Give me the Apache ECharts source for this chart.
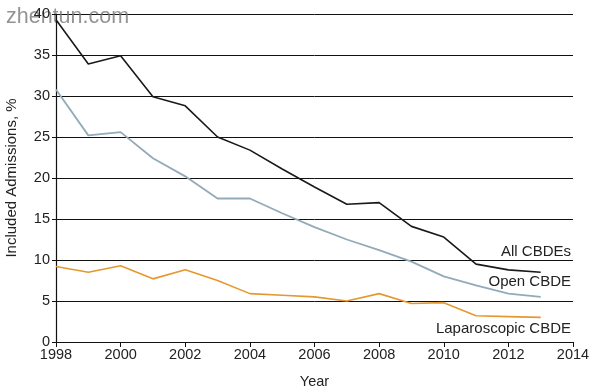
<!DOCTYPE html>
<html><head><meta charset="utf-8">
<script src="https://cdn.jsdelivr.net/npm/echarts@6/dist/echarts.min.js"></script>
<style>html,body{margin:0;padding:0;background:#fff}#c{width:597px;height:392px}</style>
</head><body><div id="c"></div>
<script>
const years = [1998,1999,2000,2001,2002,2003,2004,2005,2006,2007,2008,2009,2010,2011,2012,2013];
const allCBDE = [39.3,33.9,34.9,29.9,28.8,25.0,23.4,21.1,18.9,16.8,17.0,14.1,12.8,9.5,8.8,8.5];
const openCBDE = [30.8,25.2,25.6,22.4,20.2,17.5,17.5,15.7,14.0,12.5,11.2,9.8,8.0,6.9,5.9,5.5];
const lapCBDE = [9.2,8.5,9.3,7.7,8.8,7.5,5.9,5.7,5.5,5.0,5.9,4.7,4.8,3.2,3.1,3.0];
const seriesNames = ['All CBDEs','Open CBDE','Laparoscopic CBDE'];
const F = '"Liberation Sans", Arial, sans-serif';
const chart = echarts.init(document.getElementById('c'));
const mk = (d) => years.map((y,i)=>[y,d[i]]);
chart.setOption({
  animation:false,
  grid:{left:56,right:24,top:14,bottom:50,containLabel:false,outerBoundsMode:'none'},
  xAxis:{type:'value',min:1998,max:2014,interval:2,
    name:'Year',nameLocation:'middle',nameGap:32,
    nameTextStyle:{color:'#222',fontSize:14.5,fontFamily:F},
    axisLine:{lineStyle:{color:'#111',width:1.2}},
    axisTick:{show:true,length:5,lineStyle:{color:'#111'}},
    axisLabel:{color:'#222',fontSize:14.5,fontFamily:F,margin:5,formatter:v=>String(v)},
    splitLine:{show:false}},
  yAxis:{type:'value',min:0,max:40,interval:5,
    name:'Included Admissions, %',nameLocation:'middle',nameGap:37,
    nameTextStyle:{color:'#222',fontSize:15,fontFamily:F},
    axisLine:{show:true,lineStyle:{color:'#111',width:1.2}},
    axisTick:{show:true,length:4,lineStyle:{color:'#111'}},
    axisLabel:{color:'#222',fontSize:14.5,fontFamily:F,margin:6},
    splitLine:{show:true,lineStyle:{color:'#111',width:1}}},
  series:[
    {name:seriesNames[0],type:'line',data:mk(allCBDE),symbol:'none',lineStyle:{color:'#1a1a1a',width:1.6}},
    {name:seriesNames[1],type:'line',data:mk(openCBDE),symbol:'none',lineStyle:{color:'#93aab8',width:1.8}},
    {name:seriesNames[2],type:'line',data:mk(lapCBDE),symbol:'none',lineStyle:{color:'#e5982f',width:1.6}}
  ]
});
const lbl = (txt,y)=>({type:'text',right:26,top:y,style:{text:txt,fill:'#222',font:'15px '+F}});
chart.setOption({graphic:[
  lbl(seriesNames[0],244),lbl(seriesNames[1],274),lbl(seriesNames[2],321),
  {type:'text',left:6,top:6,style:{text:'zhentun.com',fill:'rgba(120,120,120,0.8)',font:'21.5px '+F}}
]});
</script></body></html>
